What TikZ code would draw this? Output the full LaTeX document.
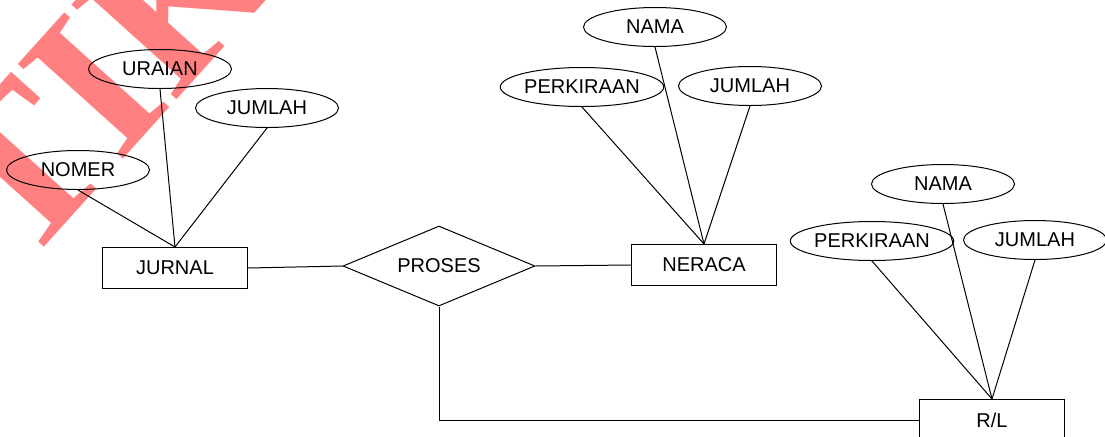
\documentclass[tikz,border=0pt]{standalone}
\usepackage{fontspec}
\setmainfont{Liberation Sans}
\newfontfamily\markfont{Liberation Serif}
\usetikzlibrary{shapes.geometric}

\begin{document}
\begin{tikzpicture}[x=0.5pt, y=-0.5pt, font=\fontsize{10}{12}\selectfont]
		\tikzstyle{entity} = [rectangle, minimum width=72.5pt, minimum height=20.5pt, inner sep=0pt, draw=black, line width=0.5pt]
		
		\tikzstyle{attribute} = [ellipse, minimum width=71.5pt, minimum height=19.5pt, inner sep=0pt, draw=black, line width=0.5pt]
		
		\tikzstyle{relation} = [diamond, aspect=2.4, minimum width=96pt, minimum height=40pt, inner sep=0pt, draw=black, line width=0.5pt]
		
		\tikzstyle{link} = [draw=black, line width=0.5pt]
		
		\useasboundingbox (0,0) rectangle (1105,436);
		
		% Watermark behind the diagram
		\begin{scope}
			\clip (0,0) rectangle (1105,436);
			\node (mark) [rotate=48, anchor=base west, inner sep=0pt, text=red!50, font=\markfont\bfseries\fontsize{108}{108}\selectfont] at (22,272) {TIK};
		\end{scope}
		
		% Entities and relation
		\node (jurnal) [entity] at (175,268) {JURNAL};
		\node (proses) [relation] at (439,266) {PROSES};
		\node (neraca) [entity] at (704,265) {NERACA};
		\node (rl) [entity] at (992,420) {R/L};
		
		% Attributes of JURNAL
		\node (uraian) [attribute] at (160,69) {URAIAN};
		\node (jumlahj) [attribute] at (267,108) {JUMLAH};
		\node (nomer) [attribute] at (78,170) {NOMER};
		
		% Attributes of NERACA
		\node (naman) [attribute] at (655,27) {NAMA};
		\node (perkiraann) [attribute] at (582,87) {PERKIRAAN};
		\node (jumlahn) [attribute] at (750,86) {JUMLAH};
		
		% Attributes of R/L
		\node (namar) [attribute] at (943,184) {NAMA};
		\node (perkiraanr) [attribute] at (872,241) {PERKIRAAN};
		\node (jumlahr) [attribute] at (1035,240) {JUMLAH};
		
		% Lines
		\draw [link] (uraian.south) -- (jurnal.north);
		\draw [link] (jumlahj.south) -- (jurnal.north);
		\draw [link] (nomer.south) -- (jurnal.north);
		\draw [link] (naman.south) -- (neraca.north);
		\draw [link] (perkiraann.south) -- (neraca.north);
		\draw [link] (jumlahn.south) -- (neraca.north);
		\draw [link] (namar.south) -- (rl.north);
		\draw [link] (perkiraanr.south) -- (rl.north);
		\draw [link] (jumlahr.south) -- (rl.north);
		\draw [link] (jurnal.east) -- (proses.west);
		\draw [link] (proses.east) -- (neraca.west);
		\draw [link] (proses.south) |- (rl.west);
	\end{tikzpicture}
\end{document}
